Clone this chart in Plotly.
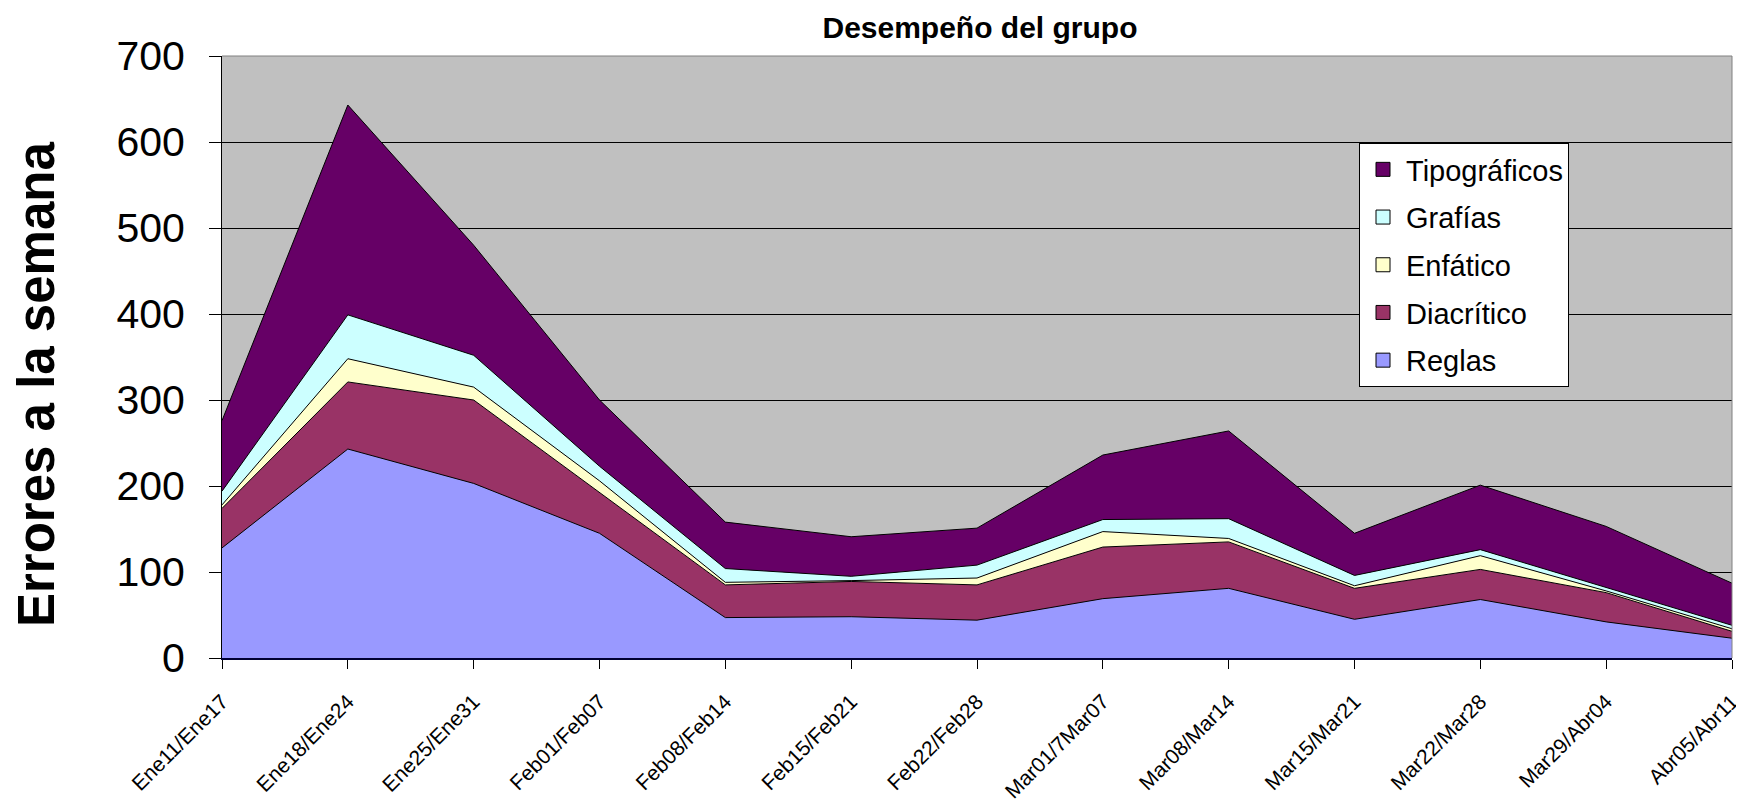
import plotly.graph_objects as go

weeks = ["Ene11/Ene17", "Ene18/Ene24", "Ene25/Ene31", "Feb01/Feb07", "Feb08/Feb14",
         "Feb15/Feb21", "Feb22/Feb28", "Mar01/7Mar07", "Mar08/Mar14", "Mar15/Mar21",
         "Mar22/Mar28", "Mar29/Abr04", "Abr05/Abr11"]
reglas = [128, 243, 203, 145, 47, 48, 44, 69, 81, 45, 68, 42, 23]
diacritico = [46, 78, 97, 47, 38, 41, 41, 60, 54, 36, 35, 34, 8]
enfatico = [4, 27, 15, 14, 3, 1, 8, 18, 4, 3, 16, 2, 3]
grafias = [16, 51, 37, 17, 16, 5, 15, 14, 23, 12, 7, 4, 4]
tipograficos = [82, 244, 128, 77, 54, 46, 43, 75, 102, 49, 75, 71, 49]

series = [
    ("Reglas", reglas, "#9999FF"),
    ("Diacrítico", diacritico, "#993366"),
    ("Enfático", enfatico, "#FFFFCC"),
    ("Grafías", grafias, "#CCFFFF"),
    ("Tipográficos", tipograficos, "#660066"),
]

FONT = "Liberation Sans, Arial, sans-serif"

# page body has an 8px margin, so the figure is drawn 8px smaller and shifted
W, H = 1736, 797
L, R, T, B = 214, 12, 48, 147
PW, PH = W - L - R, H - T - B
PLOT_L, PLOT_T = L + 8, T + 8  # plot origin in page pixels

fig = go.Figure()
n = len(series)
for i, (name, vals, color) in enumerate(series):
    fig.add_trace(go.Scatter(
        x=weeks, y=vals, name=name, mode="lines",
        stackgroup="one", showlegend=False,
        line=dict(color="#000000", width=1),
        fillcolor=color,
    ))
# legend entries as small squares (Tipográficos on top)
for i, (name, vals, color) in enumerate(series):
    fig.add_trace(go.Scatter(
        x=[None], y=[None], name=name, mode="markers",
        legendgroup=name, legendrank=n - i,
        marker=dict(symbol="square", size=14, color=color,
                    line=dict(color="black", width=1)),
    ))

fig.update_layout(
    width=W, height=H,
    margin=dict(l=L, r=R, t=T, b=B),
    paper_bgcolor="white",
    plot_bgcolor="#C0C0C0",
    font=dict(family=FONT, color="black"),
    title=dict(text="<b>Desempeño del grupo</b>", x=(980 - 8) / W, xanchor="center",
               y=1 - 19 / H, yanchor="middle", yref="container",
               font=dict(size=30, family=FONT, color="black")),
    showlegend=True,
    legend=dict(x=(1359 - PLOT_L) / PW, y=(PLOT_T + PH - 143) / PH, xanchor="left", yanchor="top",
                bgcolor="white", bordercolor="black", borderwidth=1,
                font=dict(size=29, family=FONT, color="black"),
                traceorder="grouped", tracegroupgap=7, itemwidth=36),
    xaxis=dict(type="category", range=[0, 12], showgrid=False,
               showline=True, linecolor="#000033", linewidth=2,
               ticks="outside", ticklen=9, tickcolor="black",
               tickangle=-45, tickfont=dict(size=21, family=FONT, color="black"),
               ticklabelstandoff=12, automargin=False, zeroline=False),
    yaxis=dict(range=[0, 700], dtick=100, showgrid=True, gridcolor="black", gridwidth=1,
               showline=True, linecolor="black", linewidth=1,
               ticks="outside", ticklen=12, tickcolor="black",
               tickfont=dict(size=41, family=FONT, color="black"),
               ticklabelstandoff=16, automargin=False, zeroline=False),
    annotations=[dict(text="<b>Errores a la semana</b>", textangle=-90,
                      xref="paper", yref="paper", x=(36 - PLOT_L) / PW,
                      y=(PLOT_T + PH - 385) / PH,
                      xanchor="center", yanchor="middle", showarrow=False,
                      font=dict(size=51, family=FONT, color="black"))],
    shapes=[dict(type="path", xref="paper", yref="paper",
                 path="M 0,1 L 1,1 L 1,0", line=dict(color="#808080", width=1),
                 layer="above")],
)

fig.write_html("out.html")
